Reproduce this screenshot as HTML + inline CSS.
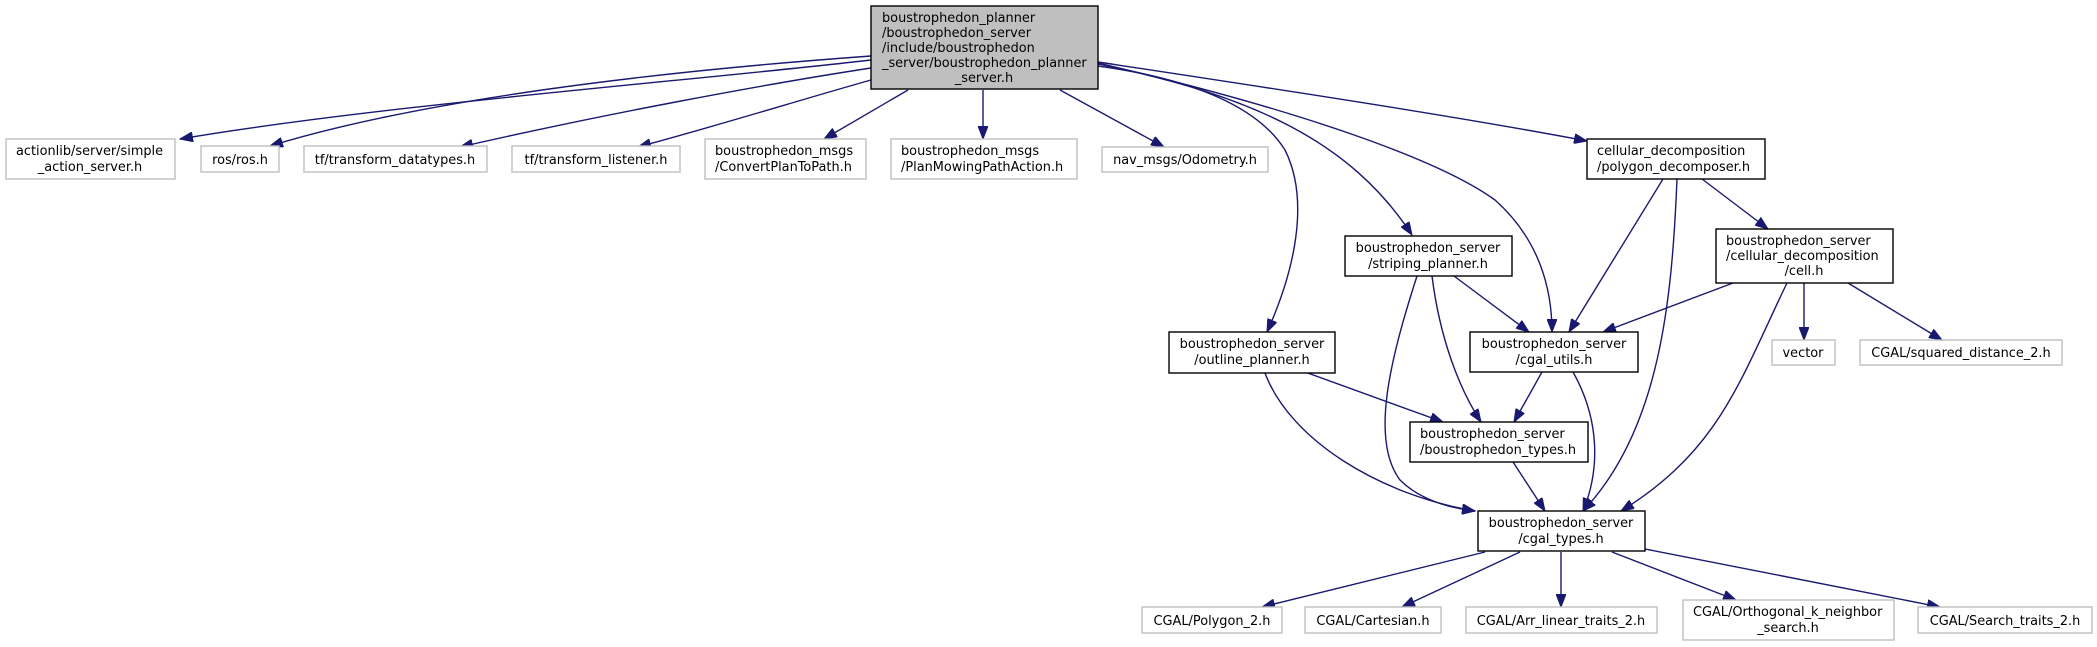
<!DOCTYPE html>
<html><head><meta charset="utf-8"><style>
html,body{margin:0;padding:0;background:#fff;}
svg{display:block;}
text{font-family:"DejaVu Sans","Liberation Sans",sans-serif;font-size:12.9px;fill:#000;}
.e{fill:none;stroke:#191970;stroke-width:1.4;marker-end:url(#a);}
.g{fill:#fff;stroke:#bfbfbf;stroke-width:1.4;}
.b{fill:#fff;stroke:#000;stroke-width:1.4;}
</style></head><body>
<svg width="2097" height="647" viewBox="0 0 2097 647" xmlns="http://www.w3.org/2000/svg">
<defs><marker id="a" markerUnits="userSpaceOnUse" markerWidth="14" markerHeight="10" refX="13" refY="5" orient="auto"><path d="M0,0 L13,5 L0,10 z" fill="#191970" stroke="#191970"/></marker></defs>

<path class="e" d="M871,60 C700,80 380,105 180,139"/>
<path class="e" d="M871,56 C650,72 420,100 270,146"/>
<path class="e" d="M871,68 C760,85 600,115 460,147"/>
<path class="e" d="M871,80 C800,100 720,125 638,147"/>
<path class="e" d="M908,90 L824,139"/>
<path class="e" d="M983,90 L983,139"/>
<path class="e" d="M1060,90 L1164,147"/>
<path class="e" d="M1098,62 C1250,85 1450,115 1587,141"/>
<path class="e" d="M1098,66 C1200,80 1260,110 1285,150 C1310,200 1295,270 1267,332"/>
<path class="e" d="M1098,64 C1250,95 1350,140 1412,235"/>
<path class="e" d="M1098,63 C1300,110 1440,160 1495,200 C1540,240 1552,290 1552,332"/>
<path class="e" d="M1663,179 L1569,332"/>
<path class="e" d="M1677,179 C1672,300 1660,430 1583,511"/>
<path class="e" d="M1702,179 L1768,229"/>
<path class="e" d="M1733,283 L1603,332"/>
<path class="e" d="M1787,283 C1740,380 1720,450 1621,511"/>
<path class="e" d="M1804,283 L1804,340"/>
<path class="e" d="M1848,283 L1942,340"/>
<path class="e" d="M1454,276 L1529,332"/>
<path class="e" d="M1432,276 C1440,340 1460,390 1481,422"/>
<path class="e" d="M1417,276 C1390,360 1370,440 1400,480 C1420,500 1450,508 1475,511"/>
<path class="e" d="M1305,372 L1443,422"/>
<path class="e" d="M1265,373 C1290,440 1380,495 1475,511"/>
<path class="e" d="M1542,372 L1514,422"/>
<path class="e" d="M1573,372 C1600,420 1600,470 1583,511"/>
<path class="e" d="M1513,462 L1545,511"/>
<path class="e" d="M1485,552 L1262,607"/>
<path class="e" d="M1520,552 L1402,607"/>
<path class="e" d="M1561,552 L1561,607"/>
<path class="e" d="M1612,552 L1736,600"/>
<path class="e" d="M1645,549 L1940,607"/>

<rect x="871" y="6" width="227" height="83" fill="#bfbfbf" stroke="#000" stroke-width="1.4"/>
<text x="882" y="22">boustrophedon_planner</text>
<text x="882" y="37">/boustrophedon_server</text>
<text x="882" y="52">/include/boustrophedon</text>
<text x="882" y="67">_server/boustrophedon_planner</text>
<text x="984" y="82" text-anchor="middle">_server.h</text>

<rect class="g" x="6" y="139" width="169" height="40"/>
<text x="16" y="155">actionlib/server/simple</text>
<text x="90" y="171" text-anchor="middle">_action_server.h</text>
<rect class="g" x="201" y="146" width="78" height="26"/>
<text x="240" y="164" text-anchor="middle">ros/ros.h</text>
<rect class="g" x="304" y="146" width="183" height="26"/>
<text x="395" y="164" text-anchor="middle">tf/transform_datatypes.h</text>
<rect class="g" x="512" y="146" width="168" height="26"/>
<text x="596" y="164" text-anchor="middle">tf/transform_listener.h</text>
<rect class="g" x="705" y="139" width="161" height="40"/>
<text x="715" y="155">boustrophedon_msgs</text>
<text x="715" y="171">/ConvertPlanToPath.h</text>
<rect class="g" x="891" y="139" width="186" height="40"/>
<text x="901" y="155">boustrophedon_msgs</text>
<text x="901" y="171">/PlanMowingPathAction.h</text>
<rect class="g" x="1102" y="147" width="166" height="25"/>
<text x="1185" y="164" text-anchor="middle">nav_msgs/Odometry.h</text>
<rect class="b" x="1587" y="139" width="178" height="40"/>
<text x="1597" y="155">cellular_decomposition</text>
<text x="1597" y="171">/polygon_decomposer.h</text>

<rect class="b" x="1345" y="236" width="167" height="40"/>
<text x="1428" y="252" text-anchor="middle">boustrophedon_server</text>
<text x="1428" y="268" text-anchor="middle">/striping_planner.h</text>
<rect class="b" x="1716" y="229" width="177" height="54"/>
<text x="1726" y="245">boustrophedon_server</text>
<text x="1726" y="260">/cellular_decomposition</text>
<text x="1804" y="275" text-anchor="middle">/cell.h</text>

<rect class="b" x="1169" y="332" width="166" height="41"/>
<text x="1252" y="348" text-anchor="middle">boustrophedon_server</text>
<text x="1252" y="364" text-anchor="middle">/outline_planner.h</text>
<rect class="b" x="1470" y="332" width="168" height="40"/>
<text x="1554" y="348" text-anchor="middle">boustrophedon_server</text>
<text x="1554" y="364" text-anchor="middle">/cgal_utils.h</text>
<rect class="g" x="1772" y="340" width="63" height="25"/>
<text x="1803" y="357" text-anchor="middle">vector</text>
<rect class="g" x="1860" y="340" width="202" height="25"/>
<text x="1961" y="357" text-anchor="middle">CGAL/squared_distance_2.h</text>

<rect class="b" x="1410" y="422" width="178" height="40"/>
<text x="1420" y="438">boustrophedon_server</text>
<text x="1420" y="454">/boustrophedon_types.h</text>
<rect class="b" x="1478" y="511" width="167" height="40"/>
<text x="1561" y="527" text-anchor="middle">boustrophedon_server</text>
<text x="1561" y="543" text-anchor="middle">/cgal_types.h</text>

<rect class="g" x="1142" y="607" width="140" height="26"/>
<text x="1212" y="625" text-anchor="middle">CGAL/Polygon_2.h</text>
<rect class="g" x="1305" y="607" width="136" height="26"/>
<text x="1373" y="625" text-anchor="middle">CGAL/Cartesian.h</text>
<rect class="g" x="1466" y="607" width="191" height="26"/>
<text x="1561" y="625" text-anchor="middle">CGAL/Arr_linear_traits_2.h</text>
<rect class="g" x="1683" y="600" width="211" height="40"/>
<text x="1693" y="616">CGAL/Orthogonal_k_neighbor</text>
<text x="1788" y="632" text-anchor="middle">_search.h</text>
<rect class="g" x="1918" y="607" width="174" height="26"/>
<text x="2005" y="625" text-anchor="middle">CGAL/Search_traits_2.h</text>
</svg>
</body></html>
